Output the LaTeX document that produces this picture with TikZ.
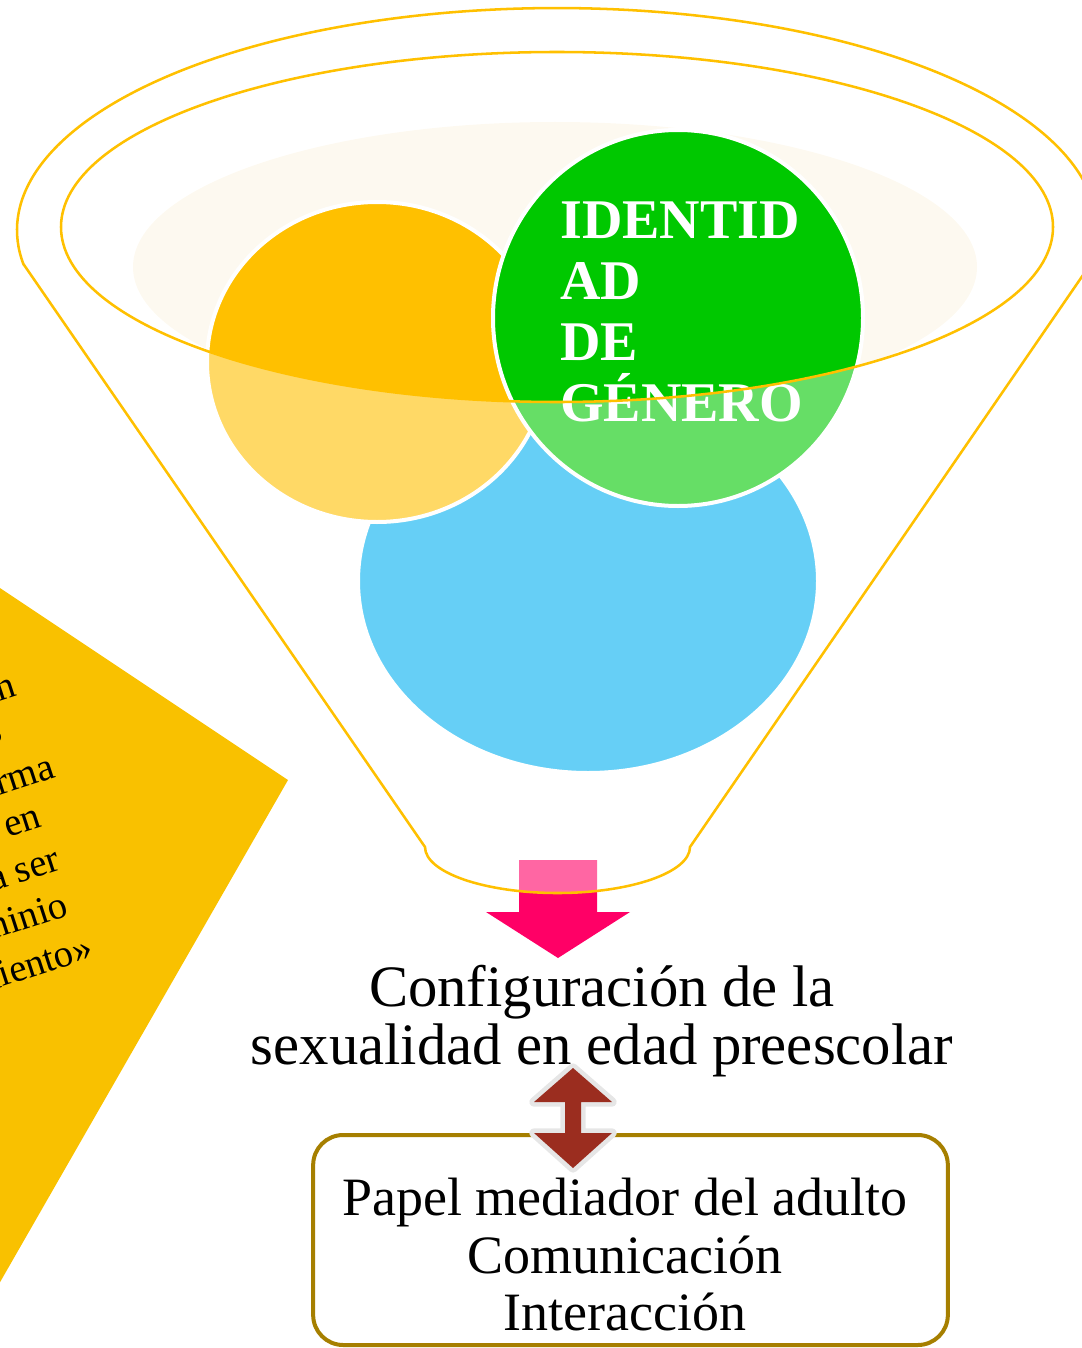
\documentclass[tikz,border=0pt]{standalone}
\usepackage{fontspec}
\setmainfont{Liberation Serif}
\definecolor{funnelline}{RGB}{255,192,0}
\definecolor{panel}{RGB}{249,193,0}
\definecolor{cream}{RGB}{253,249,240}
\definecolor{cyellow}{RGB}{255,192,0}
\definecolor{cgreen}{RGB}{0,200,0}
\definecolor{cblue}{RGB}{0,176,240}
\definecolor{pinkarrow}{RGB}{255,0,102}
\definecolor{darkred}{RGB}{155,45,31}
\definecolor{arrowedge}{RGB}{230,230,230}
\definecolor{boxline}{RGB}{166,127,0}
\tikzset{
  leftfrag/.style={anchor=base east, rotate=18, inner sep=0pt, font=\fontsize{29}{33}\selectfont},
  bubble/.style={draw=white, line width=3pt},
  funnelstroke/.style={draw=funnelline, line width=1.9pt},
  maintext/.style={inner sep=0pt, align=center, font=\fontsize{44}{43.5}\selectfont},
}
\begin{document}
\begin{tikzpicture}[x=0.75pt,y=-0.75pt]
\useasboundingbox (0,0) rectangle (1081,1348);
% left panel
\fill[panel] (-60,548) -- (288,780) -- (-40,1352) -- cycle;
\node[leftfrag] (l1) at (18,695) {n};
\node[leftfrag] (l2) at (4,735) {,};
\node[leftfrag] (l3) at (57,777) {rma};
\node[leftfrag] (l4) at (43,826) {en};
\node[leftfrag] (l5) at (62,869) {a ser};
\node[leftfrag] (l6) at (70,915) {minio};
\node[leftfrag] (l7) at (95,957) {miento»};
% cream background ellipse
\fill[cream] (555,267) ellipse [x radius=422, y radius=145];
% circles
\draw[bubble, fill=cblue] (588,581) ellipse [x radius=230, y radius=192];
\draw[bubble, fill=cyellow] (377,362) ellipse [x radius=170, y radius=160];
\draw[bubble, fill=cgreen] (678,318) ellipse [x radius=185, y radius=188];
% pink arrow
\coordinate (pa) at (558,860);
\fill[pinkarrow] (pa) ++(-39,0) -- ++(78,0) -- ++(0,52) -- ++(33,0) -- (558,958) -- (486,912) -- (519,912) -- cycle;
% translucent funnel body
\fill[white, fill opacity=0.4, even odd rule]
  (23.4,264) -- (425,847) arc[start angle=180, end angle=0, x radius=132.5, y radius=46]
  -- (1090.6,264) arc[start angle=8.8, end angle=-188.8, x radius=540, y radius=222] -- cycle
  (557,227) ellipse [x radius=496, y radius=175];
% green circle text
\node[anchor=north west, inner sep=0pt, align=left, text=white,
      font=\fontsize{42}{45.75}\selectfont\bfseries] (ident) at (560,202)
  {IDENTID\\AD\\DE\\GÉNERO};
% funnel strokes
\draw[funnelstroke]
  (23.4,264) -- (425,847) arc[start angle=180, end angle=0, x radius=132.5, y radius=46]
  -- (1090.6,264) arc[start angle=8.8, end angle=-188.8, x radius=540, y radius=222] -- cycle;
\draw[funnelstroke] (557,227) ellipse [x radius=496, y radius=175];
% main text
\node[maintext, anchor=north] (cfg) at (602,965)
  {Configuración de la\\sexualidad en edad preescolar};
% box
\node[draw=boxline, line width=3pt, rounded corners=22.5pt,
      minimum width=476pt, minimum height=157.5pt, inner sep=0pt] (box) at (630.5,1240) {};
\node[maintext, anchor=north, font=\fontsize{40.5}{43}\selectfont] (boxtext) at (625,1178)
  {Papel mediador del adulto\\Comunicación\\Interacción};
% double arrow between text and box
\coordinate (dc) at (573,1118);
\path[draw=arrowedge, line width=7pt, line join=round, fill=darkred]
  (dc) ++(0,-50) -- ++(39,34) -- ++(-31,0) -- ++(0,31) -- ++(31,0) -- ++(-39,35)
  -- ++(-39,-35) -- ++(31,0) -- ++(0,-31) -- ++(-31,0) -- cycle;
\fill[darkred]
  (dc) ++(0,-50) -- ++(39,34) -- ++(-31,0) -- ++(0,31) -- ++(31,0) -- ++(-39,35)
  -- ++(-39,-35) -- ++(31,0) -- ++(0,-31) -- ++(-31,0) -- cycle;
\end{tikzpicture}
\end{document}
